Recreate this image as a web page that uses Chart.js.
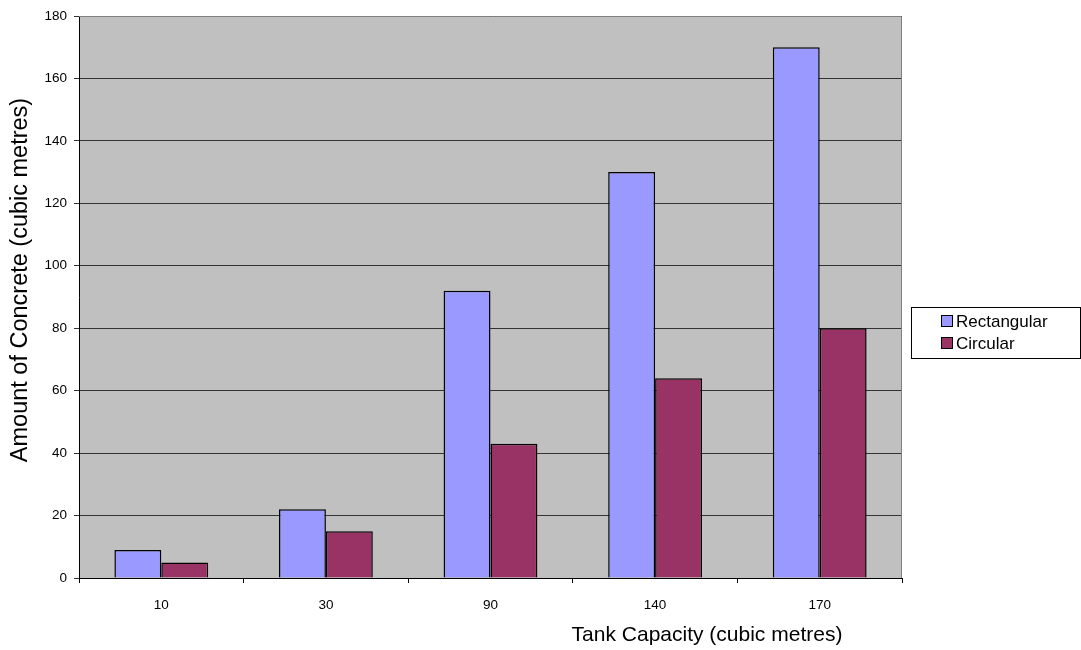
<!DOCTYPE html>
<html lang="en">
<head>
    <meta charset="UTF-8">
    <title>Tank Capacity vs Concrete</title>
    <script src="https://cdn.jsdelivr.net/npm/chart.js"></script>
    <style>
        body { margin: 0; background: #ffffff; }
        #wrap { width: 1081px; height: 650px; }
    </style>
</head>
<body>
    <div id="wrap"><canvas id="tankChart" width="1081" height="650"></canvas></div>

    <script>
        const capacities = ['10', '30', '90', '140', '170'];
        const rectangular = [9, 22, 92, 130, 170];
        const circular = [5, 15, 43, 64, 80];
        const seriesNames = ['Rectangular', 'Circular'];
        const seriesColors = ['#9999ff', '#993366'];

        const FONT = 'Arial, "Liberation Sans", sans-serif';

        // plot border, axis titles and boxed legend, Excel style
        const extras = {
            id: 'extras',
            beforeDatasetsDraw(chart) {
                const { ctx, chartArea: a } = chart;
                ctx.save();
                ctx.strokeStyle = '#808080';
                ctx.lineWidth = 1;
                ctx.beginPath();
                ctx.moveTo(a.left, a.top + 0.5);
                ctx.lineTo(a.right - 0.5, a.top + 0.5);
                ctx.lineTo(a.right - 0.5, a.bottom);
                ctx.stroke();
                ctx.restore();
            },
            afterDraw(chart) {
                const { ctx, chartArea: a } = chart;
                ctx.save();
                ctx.fillStyle = '#000';
                ctx.textAlign = 'center';
                ctx.textBaseline = 'middle';
                ctx.font = '21px ' + FONT;
                ctx.fillText('Tank Capacity (cubic metres)', a.left + 628, a.bottom + 57);

                ctx.save();
                ctx.translate(a.left - 58, (a.top + a.bottom) / 2 - 17);
                ctx.rotate(-Math.PI / 2);
                ctx.font = '23.5px ' + FONT;
                ctx.fillText('Amount of Concrete (cubic metres)', 0, 0);
                ctx.restore();

                // legend
                const lx = a.right + 9, ly = a.top + 291;
                ctx.fillStyle = '#fff';
                ctx.fillRect(lx, ly, 170, 52);
                ctx.strokeStyle = '#000';
                ctx.lineWidth = 1;
                ctx.strokeRect(lx + 0.5, ly + 0.5, 169, 51);
                ctx.font = '17px ' + FONT;
                ctx.textAlign = 'left';
                seriesNames.forEach((name, i) => {
                    const y = ly + 14 + i * 22;
                    ctx.fillStyle = seriesColors[i];
                    ctx.fillRect(lx + 30.5, y - 5.5, 11, 11);
                    ctx.strokeStyle = '#000';
                    ctx.strokeRect(lx + 30.5, y - 5.5, 11, 11);
                    ctx.fillStyle = '#000';
                    ctx.fillText(name, lx + 45, y + 1);
                });
                ctx.restore();
            }
        };

        const plotBg = {
            id: 'plotBg',
            beforeDraw(chart) {
                const { ctx, chartArea: a } = chart;
                ctx.save();
                ctx.fillStyle = '#c0c0c0';
                ctx.fillRect(a.left, a.top, a.right - a.left, a.bottom - a.top);
                ctx.restore();
            }
        };

        new Chart(document.getElementById('tankChart'), {
            type: 'bar',
            data: {
                labels: capacities,
                datasets: [
                    { label: seriesNames[0], data: rectangular, backgroundColor: seriesColors[0] },
                    { label: seriesNames[1], data: circular, backgroundColor: seriesColors[1] }
                ]
            },
            options: {
                responsive: false,
                animation: false,
                layout: { padding: { left: 0, top: 16, right: 179, bottom: 0 } },
                datasets: {
                    bar: {
                        borderColor: '#000',
                        borderWidth: 1.5,
                        categoryPercentage: 0.57,
                        barPercentage: 1
                    }
                },
                plugins: {
                    legend: { display: false },
                    tooltip: { enabled: false }
                },
                scales: {
                    x: {
                        afterFit(s) { s.height = 72; },
                        grid: {
                            offset: true,
                            drawOnChartArea: false,
                            drawTicks: true,
                            tickLength: 5,
                            color: '#000'
                        },
                        border: { color: '#000', width: 1 },
                        ticks: { color: '#000', font: { family: FONT, size: 13.5 }, padding: 14 }
                    },
                    y: {
                        min: 0,
                        max: 180,
                        afterFit(s) { s.width = 79; },
                        grid: {
                            color: '#333',
                            lineWidth: 1,
                            tickLength: 5
                        },
                        border: { color: '#000', width: 1 },
                        ticks: { stepSize: 20, color: '#000', font: { family: FONT, size: 13.5 }, padding: 7 }
                    }
                }
            },
            plugins: [plotBg, extras]
        });
    </script>
</body>
</html>
